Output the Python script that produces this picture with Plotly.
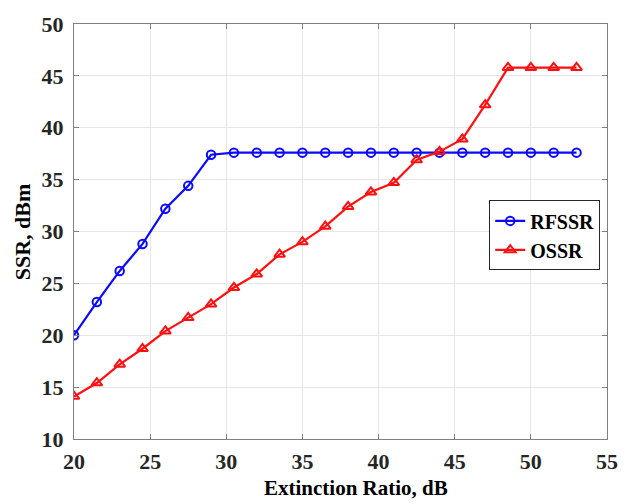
import plotly.graph_objects as go

# Extinction ratio sweep (dB)
extinction_ratio = [20, 21.5, 23, 24.5, 26, 27.5, 29, 30.5, 32, 33.5, 35, 36.5,
                    38, 39.5, 41, 42.5, 44, 45.5, 47, 48.5, 50, 51.5, 53]

# RF side-mode suppression ratio (dBm)
rfssr = [20.0, 23.2, 26.2, 28.8, 32.2, 34.4, 37.4, 37.6, 37.6, 37.6, 37.6, 37.6,
         37.6, 37.6, 37.6, 37.6, 37.6, 37.6, 37.6, 37.6, 37.6, 37.6, 37.6]

# Optical side-mode suppression ratio (dBm)
ossr = [14.1, 15.4, 17.2, 18.7, 20.4, 21.7, 23.0, 24.6, 25.9, 27.8, 29.0, 30.5,
        32.4, 33.8, 34.7, 36.9, 37.7, 38.9, 42.2, 45.8, 45.8, 45.8, 45.8]

x_ticks = [20, 25, 30, 35, 40, 45, 50, 55]
y_ticks = [10, 15, 20, 25, 30, 35, 40, 45, 50]

SERIF = "Liberation Serif"
TEXT = "#262626"

fig = go.Figure()
fig.add_trace(go.Scatter(
    x=extinction_ratio, y=rfssr, name="RFSSR", mode="lines+markers",
    line=dict(color="#0a0aff", width=2.2),
    marker=dict(symbol="circle-open", size=8.5, color="#0a0aff",
                line=dict(width=2, color="#0a0aff")),
))
fig.add_trace(go.Scatter(
    x=extinction_ratio, y=ossr, name="OSSR", mode="lines+markers",
    line=dict(color="#ff1010", width=2.2),
    marker=dict(symbol="triangle-up-open", size=9.5, color="#ff1010",
                line=dict(width=2, color="#ff1010")),
))

axis_common = dict(
    showgrid=True, gridcolor="#e6e6e6", gridwidth=1,
    showline=True, linecolor="#808080", linewidth=1, mirror="ticks",
    ticks="inside", ticklen=5, tickcolor="#808080", tickwidth=1,
    zeroline=False,
    tickfont=dict(family=SERIF, size=22, color=TEXT, weight="bold"),
)

fig.update_xaxes(range=[20, 55], tickvals=x_ticks, ticklabelstandoff=3,
                 **axis_common)
fig.update_yaxes(range=[10, 50], tickvals=y_ticks, ticklabelstandoff=5,
                 **axis_common)

fig.update_layout(
    width=630, height=504,
    margin=dict(l=74, r=13, t=18, b=65),
    paper_bgcolor="white", plot_bgcolor="white",
    showlegend=True,
    legend=dict(
        x=0.779, y=0.575, xanchor="left", yanchor="top",
        bgcolor="white", bordercolor="#262626", borderwidth=1,
        font=dict(family=SERIF, size=20, color="black", weight="bold"),
        itemwidth=30, tracegroupgap=0,
    ),
    annotations=[
        dict(text="Extinction Ratio, dB", xref="paper", yref="paper",
             x=0.529, y=-0.152, xanchor="center", yanchor="bottom",
             showarrow=False,
             font=dict(family=SERIF, size=21, color="black", weight="bold")),
        dict(text="SSR, dBm", xref="paper", yref="paper",
             x=-0.096, y=0.5, xanchor="center", yanchor="middle",
             textangle=-90, showarrow=False,
             font=dict(family=SERIF, size=22, color="black", weight="bold")),
    ],
)

fig.write_html("out.html")
